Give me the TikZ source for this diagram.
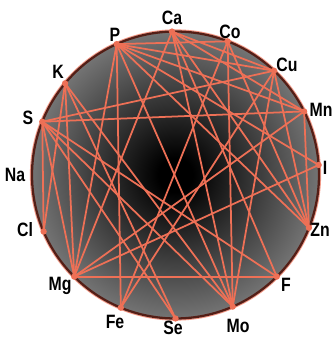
\documentclass[tikz,border=0pt]{standalone}
\usepackage{fontspec}
\setmainfont{Liberation Sans}
\usetikzlibrary{calc}

\definecolor{linkred}{RGB}{238,112,86}
\definecolor{rimdark}{RGB}{84,30,22}
\definecolor{rimgray}{RGB}{168,168,168}
\pgfdeclareradialshading{discshade}{\pgfpoint{0bp}{0bp}}{color(0bp)=(black); color(3bp)=(black); color(35bp)=(rimgray); color(50bp)=(rimgray)}

\begin{document}
\begin{tikzpicture}[x=0.02cm, y=0.02cm,
    link/.style={linkred, line width=1pt},
    elem/.style={font=\bfseries\fontsize{11}{11}\selectfont, inner sep=0pt, xscale=0.82},
    dot/.style={circle, fill=linkred, inner sep=0pt, minimum size=3.6pt}]
    \useasboundingbox (0,0) rectangle (333,338);
    \coordinate (c) at (175.5,163);

    % Draw disc
    \shade[shading=discshade] (c) circle (143.5);
    \draw[linkred!70, line width=0.7pt] (c) circle (145);
    \draw[rimdark, line width=1.3pt] (c) circle (143.5);

    % Points on the rim
    \foreach \n/\ang in {Ca/91.4, Co/68.7, Cu/46.6, Mn/26.3, I/4, Zn/-21.6, F/-45.1, Mo/-66.5,
                         Se/-90, Fe/-112.4, Mg/-134.9, Cl/-156.8, Na/176.8, S/158.2, K/140.3, P/114.2}
        \coordinate (\n) at ($(c)+(\ang:143.5)$);

    % Draw links
    \foreach \a/\b in {P/Fe, P/Mo, P/Zn, P/Mn, P/Cu, P/I, P/Mg, P/Co,
                       Ca/Mg, Ca/F, Ca/Cu, Ca/Mn, Ca/Zn, Ca/Mo,
                       Co/Mo, Co/Fe, Co/Zn,
                       Cu/S, Cu/Zn, Cu/Mo, Cu/Fe,
                       Mn/S, Mn/Mg, Mn/Zn, I/Mg,
                       F/Mg, F/S, Mo/K, Mo/S, Se/S, Se/K,
                       K/Cl, K/Mg, S/Mg, S/Cl}
        \draw[link] (\a) -- (\b);

    \foreach \n in {Ca, Co, Cu, Mn, I, Zn, F, Mo, Se, Fe, Mg, Cl, S, K, P}
        \node[dot] (dot\n) at (\n) {};

    % Add labels
    \node[elem] (labCa) at (172,320) {Ca};
    \node[elem] (labCo) at (230,306) {Co};
    \node[elem] (labCu) at (287,273) {Cu};
    \node[elem] (labMn) at (321,228) {Mn};
    \node[elem] (labI)  at (325,170) {I};
    \node[elem] (labZn) at (320,108) {Zn};
    \node[elem] (labF)  at (286,53) {F};
    \node[elem] (labMo) at (238,12) {Mo};
    \node[elem] (labSe) at (173,10) {Se};
    \node[elem] (labFe) at (115,16) {Fe};
    \node[elem] (labMg) at (60,52) {Mg};
    \node[elem] (labCl) at (25,108) {Cl};
    \node[elem] (labNa) at (15,163) {Na};
    \node[elem] (labS)  at (28,220) {S};
    \node[elem] (labK)  at (58,266) {K};
    \node[elem] (labP)  at (115,303) {P};
\end{tikzpicture}
\end{document}
